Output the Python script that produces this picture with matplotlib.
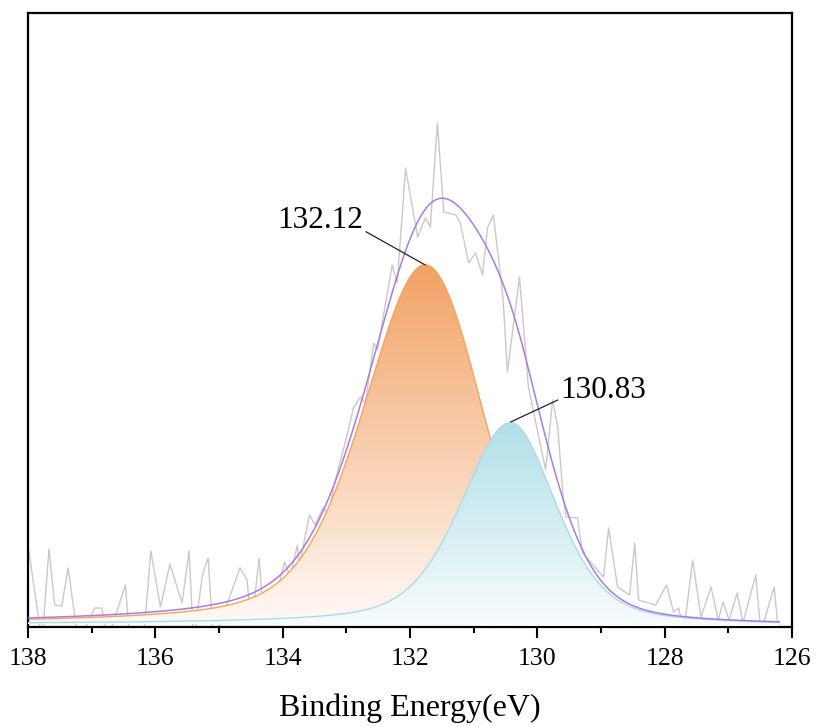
import numpy as np
import matplotlib
matplotlib.use("Agg")
import matplotlib.pyplot as plt
from matplotlib.colors import LinearSegmentedColormap

plt.rcParams['font.family'] = ['Liberation Serif', 'DejaVu Serif']

# ---- raw spectrum (binding energy, intensity a.u.) ----
raw_be = [138.00, 137.78, 137.67, 137.58, 137.47, 137.37, 137.21, 136.95, 136.84, 136.76,
          136.47, 136.40, 136.19, 136.07, 135.92, 135.77, 135.58, 135.47, 135.40, 135.26,
          135.17, 135.09, 134.85, 134.67, 134.56, 134.51, 134.43, 134.37, 134.30, 134.04,
          133.97, 133.88, 133.77, 133.74, 133.58, 133.49, 133.36, 133.28, 133.20, 132.98,
          132.89, 132.78, 132.70, 132.57, 132.51, 132.28, 132.20, 132.07, 131.88, 131.76,
          131.68, 131.57, 131.47, 131.28, 131.21, 131.08, 130.97, 130.86, 130.78, 130.69,
          130.54, 130.47, 130.28, 130.14, 129.87, 129.76, 129.68, 129.59, 129.55, 129.37,
          129.29, 128.96, 128.88, 128.74, 128.55, 128.47, 128.41, 128.14, 127.97, 127.86,
          127.78, 127.70, 127.56, 127.43, 127.27, 127.16, 127.08, 126.99, 126.86, 126.77,
          126.57, 126.49, 126.28, 126.22]
raw_int = [82, -15, 78, 22, 21, 59, -15, 19, 19, -15,
           42, -15, -15, 76, 20, 63, 24, 76, -15, 52,
           69, -15, 27, 59, 47, 14, 34, 69, 7, 47,
           65, 50, 82, 60, 112, 102, 120, 110, 140, 194,
           219, 230, 224, 284, 277, 362, 344, 459, 390, 409,
           400, 504, 415, 412, 404, 364, 374, 352, 400, 412,
           330, 255, 350, 240, 157, 227, 200, 127, 110, 109,
           74, 50, 99, 40, 32, 84, 27, 22, 42, 15,
           19, -5, 67, 10, 40, 7, 25, 7, 34, 4,
           52, -5, 40, 0]

# ---- fitted components (pseudo-Voigt parameters) ----
peak_labels = ["132.12", "130.83"]
peak_centers = [131.76, 130.42]
peak_heights = [360, 203]
fwhm_high_be = [2.30, 1.85]   # width on the high binding-energy side
fwhm_low_be = [2.10, 1.70]    # width on the low binding-energy side
lor_high_be = [0.40, 0.45]
lor_low_be = [0.05, 0.45]
bg_left = 3.0
bg_right = 1.0
fit_range = [138.0, 126.2]

x_ticks = [138, 136, 134, 132, 130, 128, 126]
x_label = "Binding Energy(eV)"


def pseudo_voigt(x, c, h, wh, wl, eh, el):
    w = np.where(x >= c, wh, wl)
    eta = np.where(x >= c, eh, el)
    u = (2 * (x - c) / w) ** 2
    return h * (eta / (1 + u) + (1 - eta) * np.exp(-np.log(2) * u))


x = np.linspace(fit_range[1], fit_range[0], 1200)  # increasing
comps = [pseudo_voigt(x, peak_centers[i], peak_heights[i], fwhm_high_be[i], fwhm_low_be[i],
                      lor_high_be[i], lor_low_be[i]) for i in range(2)]
total = comps[0] + comps[1]
# Shirley-type background: grows with the cumulative area from the low-BE side
cum = np.concatenate([[0], np.cumsum((total[1:] + total[:-1]) / 2 * np.diff(x))])
bg = bg_right + (bg_left - bg_right) * cum / cum[-1]
envelope = bg + total

fig = plt.figure(figsize=(8.16, 7.27), dpi=100)
ax = fig.add_axes([28 / 816, 1 - 627 / 727, (792 - 28) / 816, (627 - 13) / 727])

ax.plot(raw_be, raw_int, color='#c9c9c9', lw=1.0, zorder=1)

fill_cols = [('#f2a265', '#fffaf7'), ('#b1e0e7', '#f8fcfd')]
line_cols = ['#f4a460', '#a8dde5']
for i in range(2):
    top = bg + comps[i]
    poly = ax.fill_between(x, bg, top, facecolor='none', edgecolor='none', zorder=2 + i)
    path = poly.get_paths()[0]
    cmap = LinearSegmentedColormap.from_list('g%d' % i, [fill_cols[i][1], fill_cols[i][0]])
    grad = np.linspace(0, 1, 256).reshape(-1, 1)
    im = ax.imshow(grad, cmap=cmap, aspect='auto', origin='lower',
                   extent=[x.min(), x.max(), 0, top.max()], zorder=2 + i,
                   interpolation='bilinear')
    im.set_clip_path(path, transform=ax.transData)
    ax.plot(x, top, color=line_cols[i], lw=1.0, zorder=2.5 + i)

ax.plot(x, envelope, color='#a97ce3', lw=1.1, zorder=5)

# annotations
text_pos = [(133.41, 407), (128.96, 237)]
rel = [(1.0, 0.15), (0.0, 0.2)]
for i in range(2):
    ax.annotate(peak_labels[i], xy=(peak_centers[i], peak_heights[i] + 2),
                xytext=text_pos[i], ha='center', va='center', fontsize=22.5,
                arrowprops=dict(arrowstyle='-', color='#222222', lw=0.9,
                                shrinkA=0, shrinkB=0, relpos=rel[i]),
                zorder=6)

ax.set_xlim(138, 126)
ax.set_ylim(0, 614)
ax.set_xticks(x_ticks)
ax.set_xticks(np.arange(127, 138, 2), minor=True)
ax.set_yticks([])
ax.tick_params(axis='x', which='major', direction='out', length=8, width=1.5,
               labelsize=18.5, pad=7)
ax.tick_params(axis='x', which='minor', direction='out', length=4, width=1.5)
for s in ax.spines.values():
    s.set_linewidth(1.6)
    s.set_color('black')
ax.set_xlabel(x_label, fontsize=23, labelpad=17)

fig.savefig('out.png', dpi=100)
